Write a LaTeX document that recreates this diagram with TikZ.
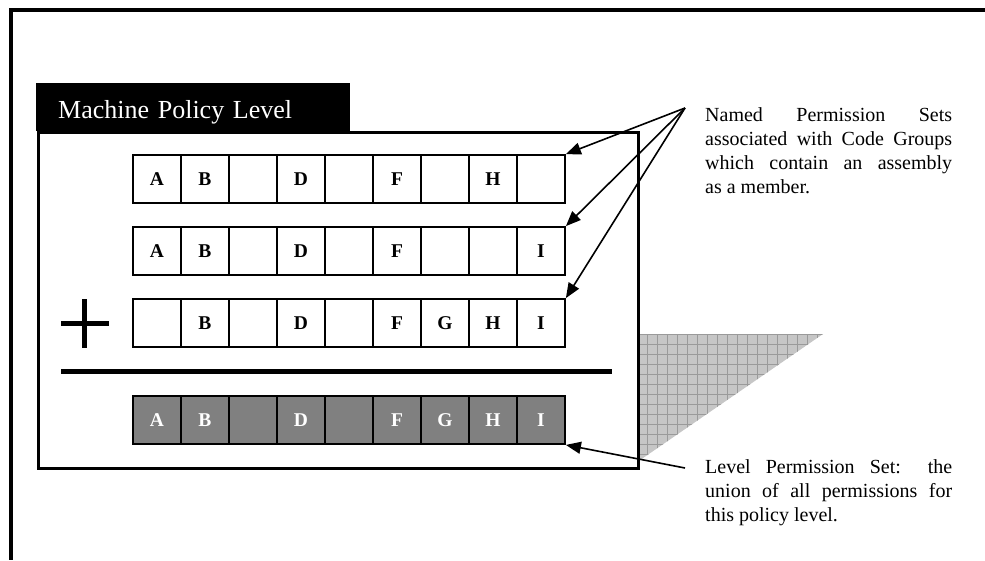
\documentclass[tikz,border=0pt]{standalone}
\usepackage{fontspec}
\setmainfont{Liberation Serif}
\usetikzlibrary{arrows.meta}
\definecolor{cellgray}{HTML}{808080}
\definecolor{shadefill}{HTML}{C6C6C6}
\definecolor{shadeline}{HTML}{9A9A9A}

\begin{document}
\begin{tikzpicture}[
  x=1pt, y=-1pt,
  permcell/.style={draw, line width=1.8pt, minimum width=48pt, minimum height=48pt,
                   inner sep=0pt, font=\fontsize{19.5}{19.5}\selectfont\bfseries},
  unioncell/.style={permcell, fill=cellgray, text=white},
  note/.style={anchor=north west, inner sep=0pt, text width=247pt, align=justify,
               font=\fontsize{20}{24}\selectfont},
  arr/.style={-{Triangle[length=15pt,width=12pt]}, line width=1.6pt},
  bar/.style={line width=5pt}
]
\useasboundingbox (0,0) rectangle (985,560);
% ----- outer frame (only top and left edges show) -----
\draw[line width=4pt] (985,10) -- (11,10) -- (11,560);
% ----- shaded triangle behind the panel -----
\begin{scope}
  \clip (630,334) -- (823,334) -- (630,467) -- cycle;
  \fill[shadefill] (630,330) rectangle (830,470);
  \foreach \gx in {637,647,...,827}{\draw[shadeline, line width=0.6pt] (\gx,330) -- (\gx,470);}
  \foreach \gy in {334,344,...,474}{\draw[shadeline, line width=0.6pt] (630,\gy) -- (830,\gy);}
\end{scope}
% ----- policy level panel -----
\node[draw, line width=2.5pt, fill=white, anchor=north west, minimum width=600pt,
      minimum height=336pt, inner sep=0pt] (panel) at (37,131) {};
\node[fill=black, text=white, anchor=north west, text width=270pt, align=left,
      inner xsep=22pt, minimum height=48pt, text height=23pt, text depth=1pt,
      font=\fontsize{26}{26}\selectfont] (header) at (36,83) {Machine Policy Level};
% ----- permission set rows -----
\foreach \l [count=\i] in {A,B,{},D,{},F,{},H,{}}{\node[permcell] (set1-\i) at (109+48*\i,179) {\l};}
\foreach \l [count=\i] in {A,B,{},D,{},F,{},{},I}{\node[permcell] (set2-\i) at (109+48*\i,251) {\l};}
\foreach \l [count=\i] in {{},B,{},D,{},F,G,H,I}{\node[permcell] (set3-\i) at (109+48*\i,323) {\l};}
\foreach \l [count=\i] in {A,B,{},D,{},F,G,H,I}{\node[unioncell] (union-\i) at (109+48*\i,420) {\l};}
% ----- plus sign and sum line -----
\draw[bar] (61,323) -- (109,323);
\draw[bar] (84,299) -- (84,348);
\draw[bar] (61,371) -- (612,371);
% ----- notes and their arrows -----
\coordinate (namedsrc) at (685,108);
\node[note] (namednote) at (705,107)
  {Named Permission Sets\linebreak associated with Code Groups\linebreak which contain an assembly\linebreak as a member.};
\foreach \r in {set1,set2,set3}{\draw[arr] (namedsrc) -- (\r-9.north east);}
\coordinate (levelsrc) at (685,468);
\node[note] (levelnote) at (705,459)
  {Level Permission Set: the\linebreak union of all permissions for\linebreak this policy level.};
\draw[arr] (levelsrc) -- (union-9.south east);
\end{tikzpicture}
\end{document}
